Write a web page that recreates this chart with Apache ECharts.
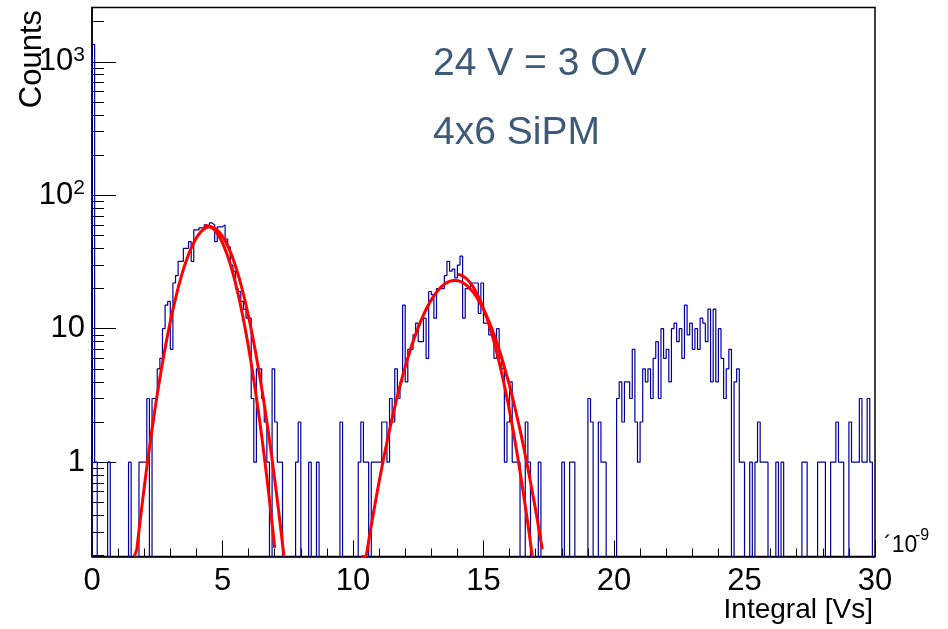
<!DOCTYPE html>
<html>
<head>
<meta charset="utf-8">
<script src="https://cdn.jsdelivr.net/npm/echarts@6/dist/echarts.min.js"></script>
<style>
  html, body { margin: 0; padding: 0; background: #ffffff; }
  #chart { width: 948px; height: 629px; }
</style>
</head>
<body>
<div id="chart"></div>
<script>
// Pulse-integral histogram: 300 bins of 0.1 (x 1e-9 Vs) between 0 and 30
const binStart = 0;
const binEnd = 30;
const counts = [
  1350, 1, 0, 0, 0, 0, 1, 0, 0, 0,
  0, 0, 0, 0, 1, 0, 0, 0, 1, 1,
  1, 3, 0, 3, 3, 5, 6, 10, 15, 16,
  7, 22, 25, 32, 32, 40, 40, 45, 32, 55,
  55, 57, 57, 60, 58, 62, 60, 45, 58, 58,
  60, 47, 41, 30, 27, 20, 19, 16, 14, 12,
  12, 3, 1, 5, 5, 3, 2, 1, 0, 5,
  2, 1, 1, 0, 0, 0, 0, 0, 1, 2,
  0, 0, 0, 1, 0, 0, 1, 0, 0, 0,
  0, 0, 0, 0, 0, 2, 0, 0, 0, 0,
  0, 0, 1, 2, 1, 1, 0, 1, 1, 1,
  1, 2, 2, 1, 3, 2, 5, 3, 4, 15,
  4, 7, 7, 9, 11, 8, 8, 12, 6, 19,
  18, 12, 20, 20, 20, 25, 32, 27, 28, 24,
  30, 35, 12, 20, 20, 22, 22, 22, 13, 22,
  11, 11, 9, 9, 6, 10, 6, 5, 1, 2,
  4, 1, 1, 1, 0, 0, 2, 1, 0, 0,
  0, 1, 0, 0, 0, 0, 0, 0, 0, 0,
  1, 0, 0, 1, 1, 0, 0, 0, 0, 0,
  3, 2, 0, 0, 2, 1, 1, 0, 0, 0,
  0, 3, 4, 2, 4, 4, 3, 7, 2, 1,
  2, 5, 4, 5, 3, 6, 8, 3, 10, 6,
  7, 4, 10, 11, 8, 10, 6, 15, 9, 11,
  7, 10, 7, 12, 11, 8, 14, 4, 14, 4,
  10, 6, 3, 5, 7, 0, 4, 5, 1, 1,
  0, 0, 1, 0, 1, 2, 1, 1, 1, 0,
  0, 0, 1, 0, 1, 0, 0, 0, 0, 0,
  0, 0, 1, 1, 0, 0, 0, 0, 1, 1,
  1, 0, 0, 1, 1, 2, 1, 1, 0, 0,
  2, 1, 1, 1, 3, 1, 1, 3, 1, 0
];

// Gaussian fits (constant, mean, sigma) and the range each one is drawn over
const fitConst = [58, 59, 23, 25.5];
const fitMean = [4.52, 4.40, 13.9, 14.0];
const fitSigma = [0.84, 0.78, 1.10, 0.92];
const fitFrom = [1.62, 4.30, 10.32, 14.02];
const fitTo = [7.35, 7.00, 17.25, 16.90];

// Axis ranges and ticks
const yMin = 0.1963;
const yMax = 2553;
const yMajorTicks = [1, 10, 100, 1000];
const yMinorTicks = [0.2, 0.3, 0.4, 0.5, 0.6, 0.7, 0.8, 0.9,
  2, 3, 4, 5, 6, 7, 8, 9, 20, 30, 40, 50, 60, 70, 80, 90,
  200, 300, 400, 500, 600, 700, 800, 900, 2000];

const annotations = ['24 V = 3 OV', '4x6 SiPM'];

// ---- build series ----
const nBins = counts.length;
const binWidth = (binEnd - binStart) / nBins;
const floorValue = yMin * 0.25; // empty bins fall below the frame and get clipped

const histData = [[binStart, floorValue]];
counts.forEach((c, i) => {
  histData.push([binStart + i * binWidth, c > 0 ? c : floorValue]);
});
histData.push([binEnd, counts[nBins - 1] > 0 ? counts[nBins - 1] : floorValue]);

function gaussCurve(k) {
  const pts = [];
  const steps = 240;
  for (let j = 0; j <= steps; j++) {
    const x = fitFrom[k] + (fitTo[k] - fitFrom[k]) * j / steps;
    const d = (x - fitMean[k]) / fitSigma[k];
    const v = fitConst[k] * Math.exp(-0.5 * d * d);
    pts.push([x, Math.max(v, yMin)]);
  }
  return pts;
}

const fitSeries = fitConst.map((_, k) => ({
  type: 'line',
  data: gaussCurve(k),
  showSymbol: false,
  symbol: 'none',
  clip: true,
  z: 4,
  lineStyle: { color: '#ff0000', width: 3 },
  animation: false
}));

const tickFont = 'Liberation Sans, Arial, sans-serif';

const chart = echarts.init(document.getElementById('chart'), null, { renderer: 'canvas' });

chart.setOption({
  animation: false,
  backgroundColor: '#ffffff',
  grid: {
    left: 92, top: 7.5, width: 783, height: 549,
    show: true, borderColor: '#000000', borderWidth: 1.5, backgroundColor: 'transparent'
  },
  xAxis: {
    type: 'value',
    min: 0, max: 30, interval: 5,
    axisLine: { show: true, lineStyle: { color: '#000000', width: 1.5 } },
    axisTick: { show: true, inside: true, length: 16, lineStyle: { color: '#000000', width: 1 } },
    minorTick: { show: true, splitNumber: 5, length: 8, lineStyle: { color: '#000000', width: 1 } },
    splitLine: { show: false },
    minorSplitLine: { show: false },
    axisLabel: {
      show: true, margin: 9, color: '#000000',
      fontFamily: tickFont, fontSize: 31,
      formatter: v => String(v)
    }
  },
  yAxis: [
    {
      type: 'log', logBase: 10, min: yMin, max: yMax, position: 'left',
      axisLine: { show: true, lineStyle: { color: '#000000', width: 1.5 } },
      axisTick: { show: true, inside: true, length: 24, customValues: yMajorTicks,
        lineStyle: { color: '#000000', width: 1 } },
      splitLine: { show: false },
      minorTick: { show: false },
      axisLabel: {
        show: true, margin: 7, color: '#000000',
        customValues: yMajorTicks,
        fontFamily: tickFont, fontSize: 31,
        formatter: v => {
          const e = Math.round(Math.log10(v));
          if (e === 0) return '1';
          if (e === 1) return '10';
          return '{b|10}{s|' + e + '}';
        },
        rich: {
          b: { fontFamily: tickFont, fontSize: 31, color: '#000000' },
          s: { fontFamily: tickFont, fontSize: 21, color: '#000000', verticalAlign: 'top', padding: [0, 0, 14, 0] }
        }
      }
    },
    {
      type: 'log', logBase: 10, min: yMin, max: yMax, position: 'left', offset: 0,
      axisLine: { show: false },
      axisTick: { show: true, inside: true, length: 12, customValues: yMinorTicks,
        lineStyle: { color: '#000000', width: 1 } },
      splitLine: { show: false },
      minorTick: { show: false },
      axisLabel: { show: false }
    }
  ],
  series: [
    {
      type: 'line',
      data: histData,
      step: 'end',
      showSymbol: false,
      symbol: 'none',
      clip: true,
      z: 3,
      lineStyle: { color: '#000099', width: 1.2 },
      animation: false
    },
    ...fitSeries
  ],
  graphic: [
    {
      type: 'text', x: 433, y: 64,
      style: { text: annotations[0], fill: '#3d5a78', font: '39px Liberation Sans, Arial, sans-serif',
        textAlign: 'left', textVerticalAlign: 'middle' }
    },
    {
      type: 'text', x: 433, y: 133,
      style: { text: annotations[1], fill: '#3d5a78', font: '39px Liberation Sans, Arial, sans-serif',
        textAlign: 'left', textVerticalAlign: 'middle' }
    },
    {
      type: 'text', x: 32, y: 10, rotation: Math.PI / 2,
      style: { text: 'Counts', fill: '#000000', font: '31px Liberation Sans, Arial, sans-serif',
        textAlign: 'right', textVerticalAlign: 'middle' }
    },
    {
      type: 'text', x: 873, y: 610,
      style: { text: 'Integral [Vs]', fill: '#000000', font: '28px Liberation Sans, Arial, sans-serif',
        textAlign: 'right', textVerticalAlign: 'middle' }
    },
    {
      type: 'text', x: 884, y: 546,
      style: { text: '´10', fill: '#000000', font: '23px Liberation Sans, Arial, sans-serif',
        textAlign: 'left', textVerticalAlign: 'middle' }
    },
    {
      type: 'text', x: 915, y: 536,
      style: { text: '-9', fill: '#000000', font: '16px Liberation Sans, Arial, sans-serif',
        textAlign: 'left', textVerticalAlign: 'middle' }
    }
  ]
});
</script>
</body>
</html>
